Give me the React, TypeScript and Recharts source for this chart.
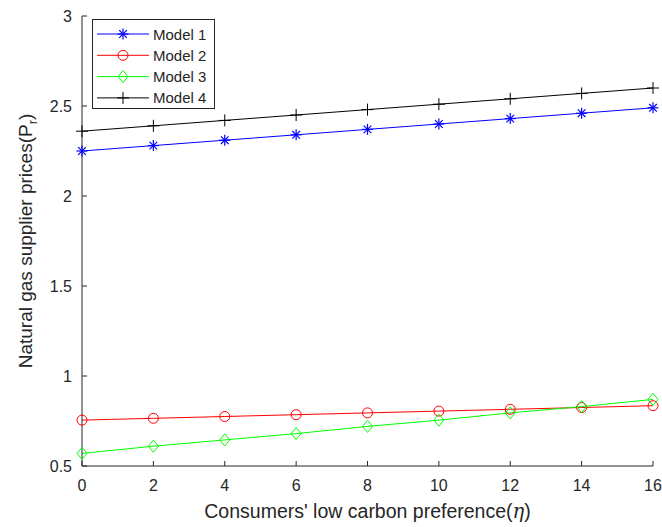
import React from 'react'
import { CartesianGrid, Legend, Line, LineChart, XAxis, YAxis } from 'recharts'

// consumers' low carbon preference (eta)
const eta = [0, 2, 4, 6, 8, 10, 12, 14, 16]
const model1 = [2.25, 2.28, 2.31, 2.34, 2.37, 2.4, 2.43, 2.46, 2.49]
const model2 = [0.755, 0.765, 0.775, 0.785, 0.795, 0.805, 0.815, 0.825, 0.835]
const model3 = [0.57, 0.61, 0.645, 0.68, 0.72, 0.755, 0.795, 0.83, 0.87]
const model4 = [2.36, 2.39, 2.42, 2.45, 2.48, 2.51, 2.54, 2.57, 2.6]

const xTicks = [0, 2, 4, 6, 8, 10, 12, 14, 16]
const yTicks = [0.5, 1, 1.5, 2, 2.5, 3]

const FONT = '"Liberation Sans", Arial, sans-serif'
const AXIS = '#262626'

type MarkerKind = 'star' | 'circle' | 'diamond' | 'plus'

const series: { key: string; name: string; color: string; marker: MarkerKind }[] = [
  { key: 'm1', name: 'Model 1', color: '#0000FF', marker: 'star' },
  { key: 'm2', name: 'Model 2', color: '#FF0000', marker: 'circle' },
  { key: 'm3', name: 'Model 3', color: '#00FF00', marker: 'diamond' },
  { key: 'm4', name: 'Model 4', color: '#000000', marker: 'plus' },
]

const data = eta.map((x, i) => ({
  eta: x,
  m1: model1[i],
  m2: model2[i],
  m3: model3[i],
  m4: model4[i],
}))

function Marker({ kind, cx, cy, color }: { kind: MarkerKind; cx: number; cy: number; color: string }) {
  if (kind === 'circle') {
    return <circle cx={cx} cy={cy} r={5} fill="none" stroke={color} strokeWidth={1} />
  }
  if (kind === 'diamond') {
    return (
      <polygon
        points={`${cx},${cy - 6} ${cx + 5},${cy} ${cx},${cy + 6} ${cx - 5},${cy}`}
        fill="none"
        stroke={color}
        strokeWidth={1}
      />
    )
  }
  if (kind === 'plus') {
    return (
      <g stroke={color} strokeWidth={1}>
        <line x1={cx - 6} y1={cy} x2={cx + 6} y2={cy} />
        <line x1={cx} y1={cy - 6} x2={cx} y2={cy + 6} />
      </g>
    )
  }
  const d = 3.8
  return (
    <g stroke={color} strokeWidth={1.2}>
      <line x1={cx} y1={cy - 5.5} x2={cx} y2={cy + 5.5} />
      <line x1={cx - 5.5} y1={cy} x2={cx + 5.5} y2={cy} />
      <line x1={cx - d} y1={cy - d} x2={cx + d} y2={cy + d} />
      <line x1={cx - d} y1={cy + d} x2={cx + d} y2={cy - d} />
    </g>
  )
}

function renderLegend() {
  return (
    <div
      style={{
        width: 121,
        height: 88,
        border: `1px solid ${AXIS}`,
        background: '#fff',
        boxSizing: 'content-box',
      }}
    >
      <svg width={121} height={88}>
        {series.map((s, i) => {
          const y = 14 + i * 21.3
          return (
            <g key={s.key}>
              <line x1={4} y1={y} x2={56} y2={y} stroke={s.color} strokeWidth={1} />
              <Marker kind={s.marker} cx={30} cy={y} color={s.color} />
              <text x={60} y={y + 5.5} fontFamily={FONT} fontSize={15} fill={AXIS}>
                {s.name}
              </text>
            </g>
          )
        })}
      </svg>
    </div>
  )
}

function XLabel(props: any) {
  const vb = props.viewBox || {}
  const cx = vb.x + vb.width / 2
  return (
    <text x={cx} y={518} textAnchor="middle" fontFamily={FONT} fontSize={19.5} fill={AXIS}>
      Consumers' low carbon preference(
      <tspan fontFamily='"DejaVu Serif", serif' fontStyle="italic">
        η
      </tspan>
      )
    </text>
  )
}

function YLabel(props: any) {
  const vb = props.viewBox || {}
  const cy = vb.y + vb.height / 2
  const x = 32
  return (
    <text
      x={x}
      y={cy}
      textAnchor="middle"
      transform={`rotate(-90, ${x}, ${cy})`}
      fontFamily={FONT}
      fontSize={19}
      fill={AXIS}
    >
      Natural gas supplier prices(P
      <tspan fontSize={13} dy={5}>
        r
      </tspan>
      <tspan dy={-5}>)</tspan>
    </text>
  )
}

export default function App() {
  return (
    <div style={{ position: 'absolute', left: 0, top: 0, background: '#fff' }}>
      <LineChart
        width={662}
        height={527}
        data={data}
        margin={{ top: 16, right: 9, bottom: 0, left: 0 }}
      >
        <CartesianGrid stroke="none" />
        <XAxis
          xAxisId="b"
          dataKey="eta"
          type="number"
          domain={[0, 16]}
          ticks={xTicks}
          height={61}
          tickSize={-5}
          tickMargin={19}
          stroke={AXIS}
          tick={{ fill: AXIS, fontSize: 16, fontFamily: FONT }}
          label={<XLabel />}
        />
        <XAxis
          xAxisId="t"
          dataKey="eta"
          type="number"
          orientation="top"
          domain={[0, 16]}
          ticks={xTicks}
          height={0}
          tickSize={-5}
          tick={false}
          stroke={AXIS}
        />
        <YAxis
          yAxisId="l"
          type="number"
          domain={[0.5, 3]}
          ticks={yTicks}
          width={82}
          tickSize={-5}
          tickMargin={15}
          stroke={AXIS}
          tick={{ fill: AXIS, fontSize: 16, fontFamily: FONT }}
          label={<YLabel />}
        />
        <YAxis
          yAxisId="r"
          type="number"
          orientation="right"
          domain={[0.5, 3]}
          ticks={yTicks}
          width={0}
          tickSize={-5}
          tick={false}
          stroke={AXIS}
        />
        <Legend
          layout="vertical"
          align="center"
          verticalAlign="middle"
          content={renderLegend}
          wrapperStyle={{ left: 92, top: 19, width: 'auto', height: 'auto' }}
        />
        {series.map((s) => (
          <Line
            key={s.key}
            xAxisId="b"
            yAxisId="l"
            dataKey={s.key}
            name={s.name}
            type="linear"
            stroke={s.color}
            strokeWidth={1}
            isAnimationActive={false}
            dot={(p: any) => (
              <Marker key={`${s.key}-${p.index}`} kind={s.marker} cx={p.cx} cy={p.cy} color={s.color} />
            )}
            activeDot={false}
          />
        ))}
      </LineChart>
    </div>
  )
}
